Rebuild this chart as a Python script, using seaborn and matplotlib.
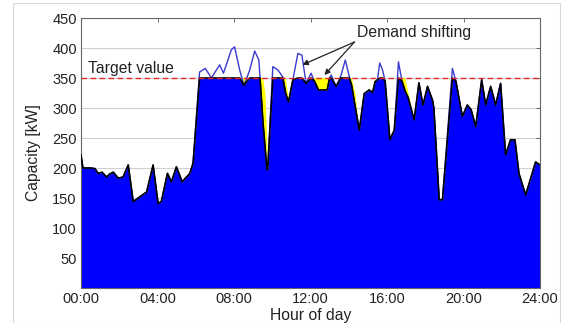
import numpy as np
import matplotlib
matplotlib.use("Agg")
import matplotlib.pyplot as plt
import seaborn as sns
import pandas as pd
from matplotlib.patches import Rectangle

# ---- data ----
hours = [0.0, 0.1, 0.5, 0.73, 0.9, 1.1, 1.34, 1.5, 1.69, 1.95, 2.2, 2.47, 2.73, 3.43, 3.77,
         4.03, 4.2, 4.52, 4.73, 4.99, 5.29, 5.69, 5.86, 6.2, 6.5, 6.82, 7.25, 7.45, 7.86, 8.03,
         8.3, 8.52, 8.82, 9.08, 9.3, 9.36, 9.52, 9.65, 9.72, 9.76, 10.03, 10.3, 10.55, 10.7,
         10.85, 11.08, 11.34, 11.55, 11.77, 12.03, 12.2, 12.42, 12.87, 13.0, 13.08, 13.34, 13.6,
         13.82, 14.03, 14.15, 14.35, 14.55, 14.81, 15.07, 15.25, 15.38, 15.5, 15.62, 15.77, 15.9,
         16.15, 16.38, 16.6, 16.78, 16.95, 17.1, 17.42, 17.67, 17.88, 18.12, 18.38, 18.45, 18.73,
         18.9, 19.42, 19.6, 19.94, 20.2, 20.4, 20.64, 20.95, 21.16, 21.42, 21.68, 21.94, 22.2,
         22.46, 22.69, 22.9, 23.25, 23.77, 24.0]
demand = [222, 200, 200, 199, 191, 193, 185, 190, 193, 183, 185, 205, 144, 160, 205,
          141, 144, 191, 177, 202, 177, 191, 208, 360, 366, 350, 372, 358, 397, 402,
          363, 338, 363, 395, 380, 350, 274, 225, 199, 197, 369, 363, 352, 325,
          310, 347, 391, 388, 341, 358, 345, 330, 330, 350, 355, 336, 355,
          380, 352, 338, 300, 263, 324, 330, 326, 344, 347, 375, 363, 345,
          247, 263, 377, 345, 328, 318, 280, 342, 305, 336, 313, 300, 147,
          147, 366, 345, 286, 305, 297, 269, 347, 305, 336, 305, 341, 222,
          247, 247, 191, 155, 210, 205]
shifted = [222, 200, 200, 199, 191, 193, 185, 190, 193, 183, 185, 205, 144, 160, 205,
           141, 144, 191, 177, 202, 177, 191, 208, 350, 350, 350, 350, 350, 350, 350,
           350, 350, 350, 350, 350, 350, 350, 322, 262, 200, 350, 350, 350, 350,
           318, 347, 350, 350, 341, 350, 350, 350, 350, 350, 350, 336, 350,
           350, 350, 350, 325, 263, 324, 330, 326, 344, 347, 350, 350, 345,
           247, 263, 350, 350, 350, 328, 280, 342, 305, 336, 313, 300, 147,
           147, 350, 345, 286, 305, 297, 269, 347, 305, 336, 305, 341, 222,
           247, 247, 191, 155, 210, 205]
target = 350
xtick_vals = [0, 4, 8, 12, 16, 20, 24]
xtick_labels = ["00:00", "04:00", "08:00", "12:00", "16:00", "20:00", "24:00"]
ytick_vals = [50, 100, 150, 200, 250, 300, 350, 400, 450]

# ---- style ----
sns.set_theme(style="white")
plt.rcParams['font.family'] = ['Liberation Sans', 'DejaVu Sans']
txt = '#222222'

df = pd.DataFrame({"hour": hours, "demand": demand, "shifted": shifted})
df["clipped"] = np.minimum(df["demand"], target)

fig = plt.figure(figsize=(5.63, 3.23), dpi=100)
ax = fig.add_axes([81/563, 1-288/323, (540-81)/563, (288-18)/323])

ax.yaxis.grid(True, color='#d0d0d0', lw=0.8)
ax.set_axisbelow(True)

ax.fill_between(df["hour"], 0, df["clipped"], color='#0000ff', lw=0, zorder=2)
ax.fill_between(df["hour"], df["demand"], df["shifted"],
                where=df["shifted"] > df["demand"], interpolate=True,
                color='#ffff00', lw=0, zorder=3)
sns.lineplot(data=df, x="hour", y="demand", ax=ax, color='#3a3ad0', lw=1.0,
             zorder=4, sort=False, estimator=None)
sns.lineplot(data=df, x="hour", y="clipped", ax=ax, color='#000000', lw=1.2,
             zorder=5, sort=False, estimator=None)
ax.axhline(target, color='#e02828', lw=1.0, ls=(0, (4, 2.5)), zorder=6)

ax.set_xlim(0, 24)
ax.set_ylim(0, 450)
ax.set_xticks(xtick_vals)
ax.set_xticklabels(xtick_labels)
ax.set_yticks(ytick_vals)
ax.tick_params(direction='in', top=True, right=True, length=3, width=0.6,
               color='#555555', labelsize=10.5, labelcolor=txt, pad=3)
ax.set_xlabel("Hour of day", fontsize=11.3, color=txt, labelpad=1)
ax.set_ylabel("Capacity [kW]", fontsize=11.3, color=txt, labelpad=8)
for s in ax.spines.values():
    s.set_color('#666666')
    s.set_linewidth(0.8)

ax.text(0.37, 354, "Target value", fontsize=11.3, color=txt, va='bottom', ha='left', zorder=7)
ax.text(14.45, 425, "Demand shifting", fontsize=11.3, color=txt, va='center', ha='left', zorder=7)
for tip in [(11.58, 372), (12.73, 355)]:
    ax.annotate("", xy=tip, xytext=(14.3, 410),
                arrowprops=dict(arrowstyle='-|>', color='#222222', lw=0.9,
                                mutation_scale=8, shrinkA=0, shrinkB=0), zorder=8)

fig.patches.append(Rectangle((13/563, 0), (560-13)/563, 1-2.5/323,
                             transform=fig.transFigure, fill=False,
                             edgecolor='#d8d8d8', lw=0.8))

fig.savefig("out.png", dpi=100)
